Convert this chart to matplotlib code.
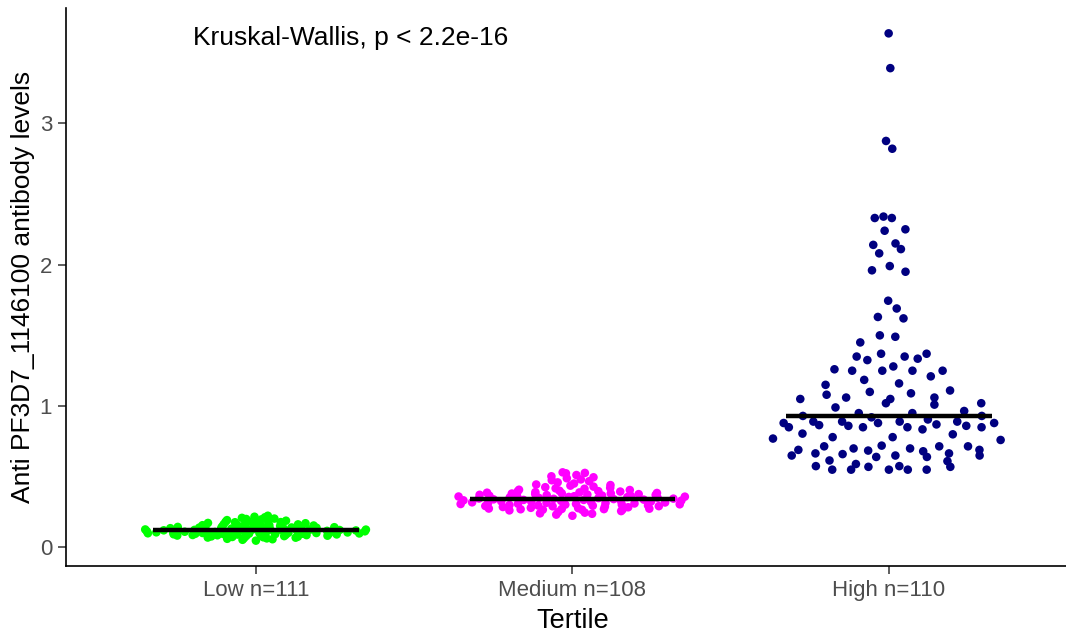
import numpy as np
import matplotlib
matplotlib.use("Agg")
import matplotlib.pyplot as plt

plt.rcParams['font.family'] = ['Liberation Sans', 'DejaVu Sans']

# tertile groups and antibody levels per subject
groups = ["Low", "Medium", "High"]
colors = ["#00FF00", "#FF00FF", "#000080"]

low_levels = [
    0.118, 0.142, 0.097, 0.163, 0.085, 0.131, 0.204, 0.109, 0.072, 0.151,
    0.126, 0.093, 0.178, 0.114, 0.061, 0.139, 0.102, 0.187, 0.122, 0.081,
    0.146, 0.108, 0.213, 0.133, 0.090, 0.157, 0.119, 0.069, 0.171, 0.127,
    0.099, 0.137, 0.224, 0.112, 0.078, 0.148, 0.104, 0.193, 0.121, 0.088,
    0.160, 0.116, 0.054, 0.134, 0.096, 0.182, 0.124, 0.106, 0.141, 0.076,
    0.198, 0.111, 0.129, 0.087, 0.155, 0.101, 0.167, 0.120, 0.066, 0.136,
    0.092, 0.175, 0.115, 0.145, 0.083, 0.209, 0.125, 0.103, 0.152, 0.074,
    0.130, 0.095, 0.189, 0.117, 0.058, 0.143, 0.107, 0.164, 0.123, 0.084,
    0.100, 0.217, 0.138, 0.113, 0.080, 0.158, 0.091, 0.128, 0.173, 0.070,
    0.119, 0.149, 0.098, 0.185, 0.110, 0.064, 0.132, 0.094, 0.201, 0.126,
    0.105, 0.154, 0.086, 0.114, 0.168, 0.048, 0.140, 0.121, 0.102, 0.179,
    0.097,
]

medium_levels = [
    0.352, 0.398, 0.415, 0.271, 0.333, 0.468, 0.309, 0.381, 0.238, 0.342,
    0.387, 0.395, 0.321, 0.503, 0.364, 0.359, 0.302, 0.437, 0.278, 0.346,
    0.314, 0.372, 0.224, 0.452, 0.327, 0.293, 0.389, 0.267, 0.338, 0.524,
    0.305, 0.363, 0.382, 0.421, 0.318, 0.246, 0.349, 0.296, 0.406, 0.274,
    0.331, 0.481, 0.370, 0.356, 0.262, 0.377, 0.311, 0.430, 0.284, 0.340,
    0.300, 0.396, 0.268, 0.512, 0.325, 0.360, 0.377, 0.445, 0.316, 0.241,
    0.367, 0.292, 0.336, 0.408, 0.272, 0.350, 0.307, 0.489, 0.286, 0.385,
    0.323, 0.251, 0.426, 0.344, 0.295, 0.371, 0.266, 0.531, 0.313, 0.354,
    0.280, 0.401, 0.329, 0.460, 0.289, 0.365, 0.303, 0.232, 0.391, 0.336,
    0.275, 0.475, 0.319, 0.357, 0.297, 0.418, 0.257, 0.345, 0.383, 0.308,
    0.496, 0.270, 0.362, 0.326, 0.441, 0.291, 0.374, 0.527,
]

high_levels = [
    3.636, 3.39, 2.875, 2.82, 2.33, 2.34, 2.33, 2.24, 2.25, 2.14,
    2.15, 2.11, 2.08, 1.96, 1.99, 1.95, 1.745, 1.69, 1.63, 1.62,
    1.50, 1.49, 1.45, 1.35, 1.325, 1.37, 1.35, 1.335, 1.37, 1.26,
    1.25, 1.25, 1.28, 1.25, 1.21, 1.25, 1.185, 1.15, 1.16, 1.08,
    1.10, 1.09, 1.11, 1.05, 1.06, 1.02, 1.05, 1.06, 1.01, 1.02,
    0.99, 0.965, 0.95, 0.95, 0.93, 0.93, 0.92, 0.89, 0.85, 0.89,
    0.865, 0.89, 0.86, 0.85, 0.88, 0.88, 0.85, 0.835, 0.905, 0.87,
    0.89, 0.86, 0.85, 0.88, 0.77, 0.80, 0.78, 0.78, 0.805, 0.76,
    0.69, 0.715, 0.70, 0.68, 0.72, 0.70, 0.685, 0.715, 0.715, 0.69,
    0.65, 0.665, 0.665, 0.64, 0.65, 0.64, 0.66, 0.65, 0.61, 0.59,
    0.615, 0.575, 0.55, 0.55, 0.57, 0.55, 0.575, 0.55, 0.55, 0.57,
]

test_label = "Kruskal-Wallis, p < 2.2e-16"


def van_der_corput(n, base=2):
    """前n项van der Corput序列"""
    seq = np.zeros(n)
    for i in range(1, n + 1):
        k, denom, q = i, 1, 0.0
        while k:
            denom *= base
            k, r = divmod(k, base)
            q += r / denom
        seq[i - 1] = q
    return seq


def quasirandom_offsets(values, width=0.38):
    """按核密度缩放的准随机横向偏移（类似 geom_quasirandom）"""
    v = np.asarray(values, dtype=float)
    n = len(v)
    iqr = np.subtract(*np.percentile(v, [75, 25]))
    bw = 0.9 * min(v.std(ddof=1), iqr / 1.34) * n ** -0.2
    dens = np.exp(-0.5 * ((v[:, None] - v[None, :]) / bw) ** 2).sum(axis=1)
    dens = dens / dens.max()
    ranks = np.argsort(np.argsort(v, kind="stable"), kind="stable")
    vdc = van_der_corput(n)
    return (vdc[ranks] - 0.5) * 2 * width * dens


fig = plt.figure(figsize=(10.66, 6.32), dpi=100)
ax = fig.add_axes([66 / 1066, 66 / 632, 1000 / 1066, 558 / 632])

all_levels = [low_levels, medium_levels, high_levels]
for i, (levels, color) in enumerate(zip(all_levels, colors)):
    pos = i + 1
    x = pos + quasirandom_offsets(levels)
    ax.scatter(x, levels, s=38, color=color, edgecolors="none", zorder=2)
    # 中位数横线
    ax.hlines(np.median(levels), pos - 0.325, pos + 0.325,
              color="black", linewidth=3.2, zorder=3)

tick_labels = [f"{g} n={len(v)}" for g, v in zip(groups, all_levels)]
ax.set_xticks([1, 2, 3])
ax.set_xticklabels(tick_labels)
ax.set_xlim(0.4, 0.4 + 1000 / 316.5)

ymax = max(high_levels)
ymin = min(low_levels)
span = ymax - ymin
ax.set_ylim(ymin - 0.05 * span, ymax + 0.05 * span)
ax.set_yticks([0, 1, 2, 3])

ax.text(1.30, 3.60, test_label, fontsize=19, ha="center", va="center", color="black")

ax.set_xlabel("Tertile", fontsize=19.5, labelpad=5)
ax.xaxis.label.set_x(0.507)  # 面板右侧被裁掉一点，标题相对于完整面板居中
ax.set_ylabel("Anti PF3D7_1146100 antibody levels", fontsize=19, labelpad=3)

for side in ["top", "right"]:
    ax.spines[side].set_visible(False)
for side in ["left", "bottom"]:
    ax.spines[side].set_linewidth(1.2)
    ax.spines[side].set_color("black")
ax.tick_params(axis="both", length=6, width=1.1, color="#333333",
               labelcolor="#4D4D4D", labelsize=16, pad=4)

plt.savefig("out.png", dpi=100)
plt.close()
